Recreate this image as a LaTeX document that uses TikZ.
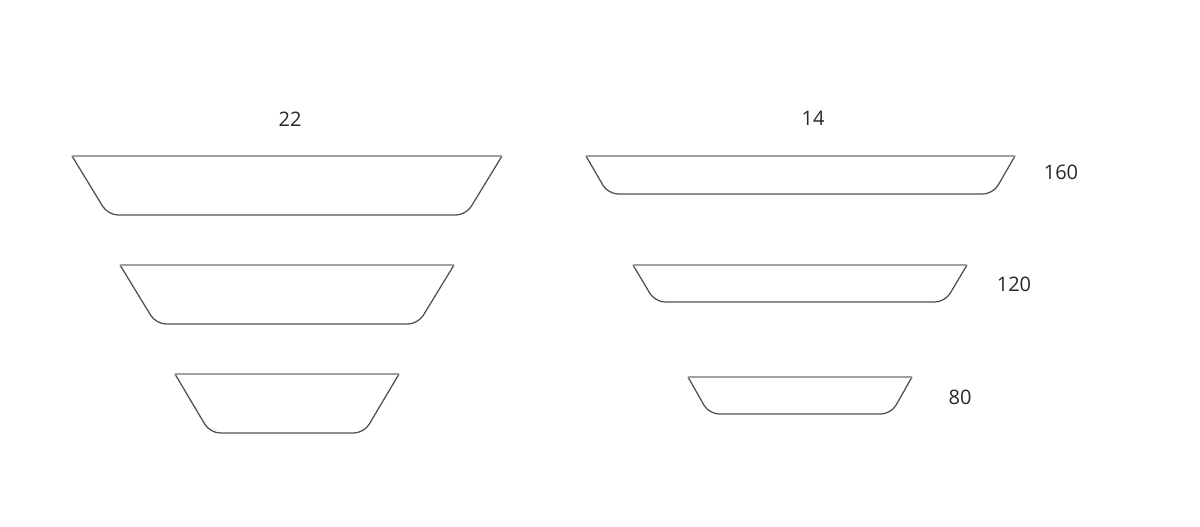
\documentclass[tikz,border=0pt]{standalone}
\usepackage{fontspec}
\setmainfont{Open Sans}
\usepackage{tikz}
\usetikzlibrary{positioning}
\definecolor{rimgray}{RGB}{160,160,160}
\definecolor{wallgray}{RGB}{80,80,80}
\definecolor{textgray}{RGB}{40,40,40}

\begin{document}
\begin{tikzpicture}[x=0.75pt,y=0.75pt,yscale=-1,xscale=1]
            \useasboundingbox (0,0) rectangle (1200,527); %set diagram to 1200 x 527
            %Shape: Left bowl, large
            \draw [color=wallgray, line width=0.95, rounded corners=7.5pt]    (72,156) -- (108,215) -- (466,215) -- (502,156) ;
            \draw [color=rimgray, line width=1.1]    (72,156) -- (502,156) ;
            %Shape: Left bowl, medium
            \draw [color=wallgray, line width=0.95, rounded corners=7.5pt]    (120,265) -- (156,324) -- (418,324) -- (454,265) ;
            \draw [color=rimgray, line width=1.1]    (120,265) -- (454,265) ;
            %Shape: Left bowl, small
            \draw [color=wallgray, line width=0.95, rounded corners=7.5pt]    (175,374) -- (210,433) -- (364,433) -- (399,374) ;
            \draw [color=rimgray, line width=1.1]    (175,374) -- (399,374) ;
            %Shape: Right bowl, large
            \draw [color=wallgray, line width=0.95, rounded corners=7.5pt]    (586,156) -- (608,194) -- (993,194) -- (1015,156) ;
            \draw [color=rimgray, line width=1.1]    (586,156) -- (1015,156) ;
            %Shape: Right bowl, medium
            \draw [color=wallgray, line width=0.95, rounded corners=7.5pt]    (633,265) -- (655,302) -- (945,302) -- (967,265) ;
            \draw [color=rimgray, line width=1.1]    (633,265) -- (967,265) ;
            %Shape: Right bowl, small
            \draw [color=wallgray, line width=0.95, rounded corners=7.5pt]    (688,377) -- (709,414) -- (891,414) -- (912,377) ;
            \draw [color=rimgray, line width=1.1]    (688,377) -- (912,377) ;
            % Text Node
            \draw (290,119) node [inner sep=0.75pt, color=textgray, font=\fontsize{15}{18}\selectfont] (lblleft)  {22};
            \draw (813,118.5) node [inner sep=0.75pt, color=textgray, font=\fontsize{15}{18}\selectfont] (lblright)  {14};
            \draw (1061,172) node [inner sep=0.75pt, color=textgray, font=\fontsize{15}{18}\selectfont] (lbllarge)  {160};
            \draw (1014,284) node [inner sep=0.75pt, color=textgray, font=\fontsize{15}{18}\selectfont] (lblmedium)  {120};
            \draw (960,397) node [inner sep=0.75pt, color=textgray, font=\fontsize{15}{18}\selectfont] (lblsmall)  {80};
        \end{tikzpicture}
\end{document}
